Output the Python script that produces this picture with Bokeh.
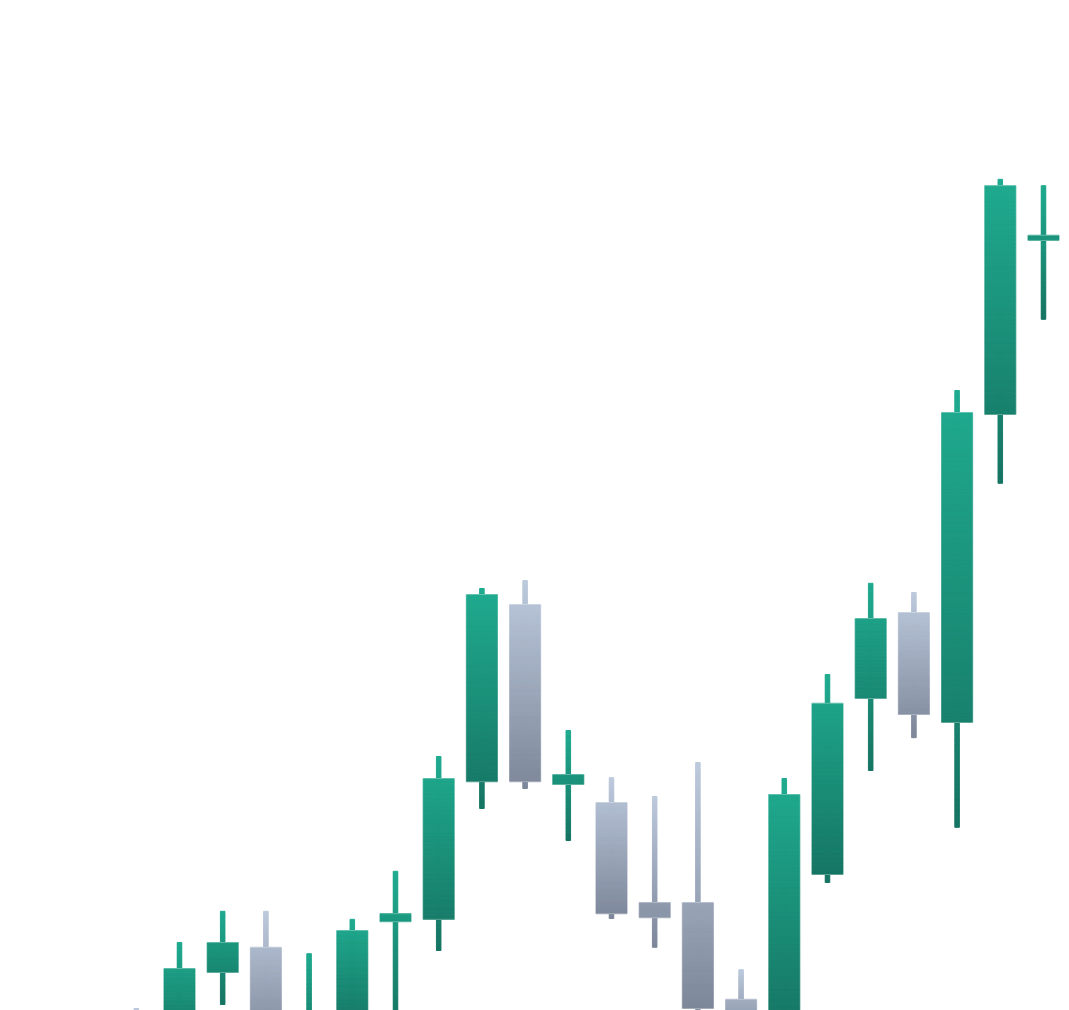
import numpy as np
from bokeh.plotting import figure
from bokeh.models import ColumnDataSource, Range1d
from bokeh.embed import file_html
from bokeh.resources import INLINE

# ---- data (price units) ----
opens  = [97.5, 96.25, 104.75, 107.9, 96.0, 98.75, 111.1, 111.4, 128.6, 150.75, 128.25,
          126.0, 113.5, 113.5, 101.4, 98.1, 117.0, 139.0, 149.75, 136.0, 174.5, 196.25]
highs  = [100.25, 108.5, 112.4, 112.4, 107.1, 111.4, 117.4, 131.75, 152.75, 153.75, 135.0,
          129.1, 126.75, 131.0, 105.1, 129.0, 142.0, 153.4, 152.25, 177.5, 203.9, 203.1]
lows   = [91.25, 95.0, 100.75, 95.6, 94.5, 97.5, 98.1, 107.5, 125.25, 127.75, 121.25,
          111.5, 107.9, 100.1, 96.25, 96.9, 116.0, 130.0, 134.1, 122.9, 165.9, 186.4]
closes = [92.5, 105.25, 108.5, 97.5, 99.5, 110.0, 112.1, 129.0, 152.0, 128.6, 129.5,
          112.1, 111.6, 100.25, 97.5, 127.0, 138.4, 149.0, 137.0, 174.75, 203.1, 196.9]

UP_TOP, UP_BOT = "#1fab8f", "#167463"
DN_TOP, DN_BOT = "#bdcadd", "#7d879a"
BODY_W = 0.72
WICK_W = 0.105
N_SLICES = 80


def hex2rgb(h):
    h = h.lstrip("#")
    return np.array([int(h[i:i + 2], 16) for i in (0, 2, 4)], dtype=float)


def mix(c1, c2, t):
    a, b = hex2rgb(c1), hex2rgb(c2)
    c = np.round(a + (b - a) * t).astype(int)
    return "#%02x%02x%02x" % tuple(c)


wick = dict(left=[], right=[], top=[], bottom=[], color=[])
body = dict(left=[], right=[], top=[], bottom=[], color=[])
outline = dict(x=[], top=[], bottom=[])

for i, (o, h, l, c) in enumerate(zip(opens, highs, lows, closes)):
    up = c >= o
    ct, cb = (UP_TOP, UP_BOT) if up else (DN_TOP, DN_BOT)
    bt, bb = max(o, c), min(o, c)
    edges = np.linspace(h, l, N_SLICES + 1)
    for j in range(N_SLICES):
        a, b = edges[j], edges[j + 1]
        col = mix(ct, cb, (j + 0.5) / N_SLICES)
        wick["left"].append(i - WICK_W / 2)
        wick["right"].append(i + WICK_W / 2)
        wick["top"].append(a)
        wick["bottom"].append(b)
        wick["color"].append(col)
        t, bo = min(a, bt), max(b, bb)
        if t > bo:
            body["left"].append(i - BODY_W / 2)
            body["right"].append(i + BODY_W / 2)
            body["top"].append(t)
            body["bottom"].append(bo)
            body["color"].append(col)
    outline["x"].append(i)
    outline["top"].append(bt)
    outline["bottom"].append(bb)

p = figure(width=1069, height=1010, output_backend="svg", toolbar_location=None,
           x_range=Range1d(-3.1435, 21.602), y_range=Range1d(100.0, 226.25),
           min_border=0, background_fill_color="white", border_fill_color="white")
p.axis.visible = False
p.grid.visible = False
p.outline_line_color = None

p.quad(left="left", right="right", top="top", bottom="bottom", source=ColumnDataSource(wick),
       fill_color="color", line_color="color", line_width=1)
p.quad(left="left", right="right", top="top", bottom="bottom", source=ColumnDataSource(body),
       fill_color="color", line_color="color", line_width=1)
p.vbar(x="x", top="top", bottom="bottom", width=BODY_W + 0.02, source=ColumnDataSource(outline),
       fill_alpha=0, line_color="white", line_alpha=0.3, line_width=1)

open("out.html", "w").write(file_html(p, INLINE))
